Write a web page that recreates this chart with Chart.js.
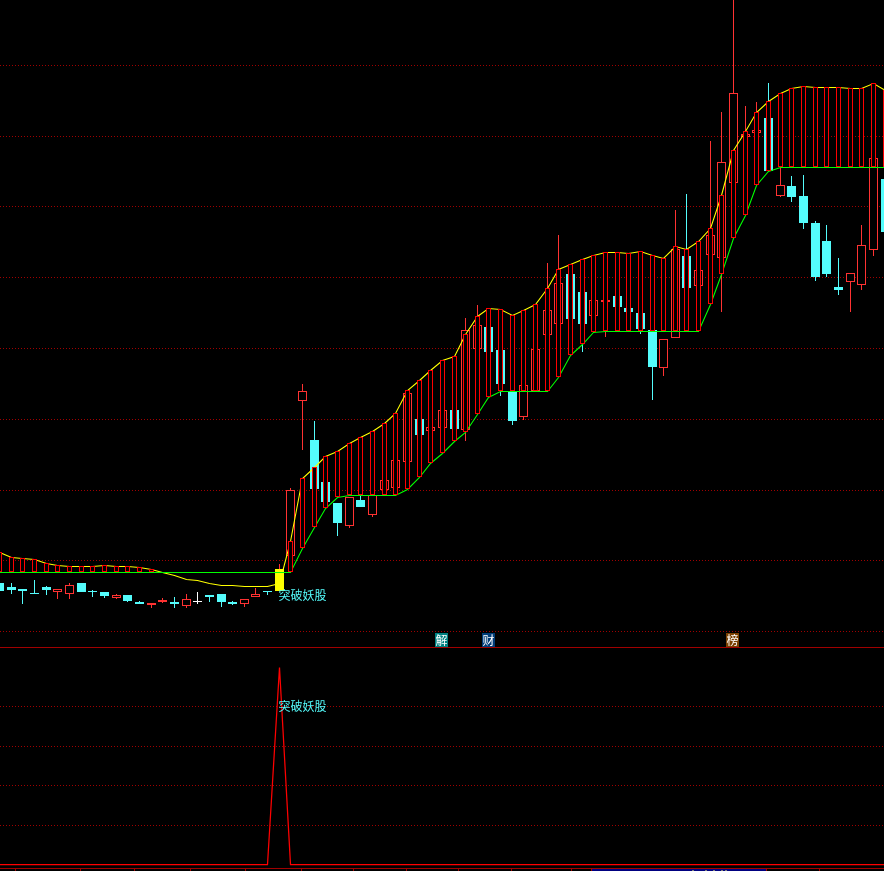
<!DOCTYPE html>
<html>
<head>
<meta charset="utf-8">
<title>突破妖股</title>
<style>
    html, body { margin: 0; height: 100%; background: #000; overflow: hidden; }
    #priceBox { position: absolute; left: 0; top: 0; width: 886px; height: 647px; }
    #signalBox { position: absolute; left: 0; top: 647px; width: 886px; height: 223px; border-top: 1px solid #a00000; }
    canvas { display: block; }
</style>
<script src="https://cdn.jsdelivr.net/npm/chart.js@4"></script>
</head>
<body>
<div id="priceBox"><canvas id="priceChart" width="886" height="647"></canvas></div>
<div id="signalBox"><canvas id="signalChart" width="886" height="223"></canvas></div>
<script>
const opens = [6.4,6.0,5.8,5.4,6.0,5.5,5.3,6.4,5.6,5.5,4.9,5.2,4.5,4.2,4.5,4.5,4.1,4.6,5.2,5.3,4.5,4.3,5.0,5.6,5.6,9.1,24.6,20.7,16.5,14.4,12.1,14.7,13.2,15.7,15.9,18.5,22.8,21.6,21.9,23.7,21.7,29.8,32.0,29.7,25.5,23.0,25.6,31.2,32.3,37.3,35.5,33.1,34.5,35.1,33.9,33.4,31.7,27.9,30.9,39.1,36.1,39.2,38.9,46.4,51.0,51.4,52.9,45.1,46.1,45.1,42.4,40.6,36.0,36.5,36.2,39.7,46.8];
const closes = [5.6,5.7,5.6,5.3,5.7,5.8,6.2,5.5,5.5,5.1,5.2,4.6,4.3,4.4,4.7,4.3,4.8,4.5,5.0,4.5,4.3,4.8,5.3,5.5,7.8,15.7,25.6,15.8,14.5,12.4,15.0,14.0,15.2,16.7,18.7,25.4,21.2,22.0,23.7,21.8,31.7,32.2,29.5,26.3,22.6,26.2,29.8,33.7,36.4,32.8,32.3,34.7,34.7,34.0,33.5,31.8,28.0,30.8,39.8,35.9,37.7,41.2,48.5,55.4,51.3,51.7,47.6,46.2,45.0,42.4,37.0,37.3,35.7,37.4,40.2,48.9,41.5];
const highs = [6.4,6.4,5.8,6.7,6.1,5.8,6.4,6.4,5.7,5.5,5.3,5.2,4.6,4.4,4.9,5.0,5.3,5.5,5.2,5.3,4.6,4.8,5.9,5.6,8.3,15.9,26.3,22.6,16.5,14.4,15.0,15.1,15.2,16.7,18.7,25.4,22.8,22.0,23.7,23.7,32.9,34.2,32.0,29.7,25.5,26.2,29.8,38.4,41.2,37.3,35.5,34.7,34.7,35.1,33.9,33.4,31.7,30.8,43.7,45.3,37.7,50.6,53.5,64.7,54.1,54.5,56.4,48.0,47.1,47.2,42.6,42.2,38.9,37.4,42.2,48.9,46.8];
const lows = [5.6,5.3,4.3,5.3,5.2,4.8,4.8,5.5,5.0,4.9,4.8,4.5,4.3,3.9,4.4,3.9,3.9,4.3,4.5,4.0,4.2,4.0,5.0,5.2,5.6,9.1,19.7,15.8,14.5,11.1,11.9,14.0,13.0,15.7,15.9,18.5,21.2,21.6,21.9,21.8,20.6,29.8,29.5,25.1,22.2,22.7,25.6,31.2,32.3,32.8,29.5,33.1,31.0,34.0,33.5,31.3,24.7,27.1,30.9,35.9,36.1,39.2,33.5,46.4,51.0,51.4,47.6,45.0,44.5,41.8,36.6,37.0,35.2,33.5,35.7,39.1,41.5];
const upperBand = [9.5,9.0,8.9,8.8,8.4,8.2,8.1,8.1,8.1,8.2,8.1,8.1,8.0,7.8,7.5,7.2,6.8,6.7,6.4,6.2,6.2,6.1,6.1,6.1,6.4,10.6,16.9,18.0,19.1,19.6,20.4,21.0,21.6,22.4,23.4,25.7,26.7,27.7,28.7,29.1,31.3,33.1,33.9,33.8,33.2,33.7,34.3,35.9,37.8,38.3,38.8,39.2,39.5,39.5,39.4,39.6,39.2,38.9,40.1,39.8,40.6,41.9,45.2,49.7,51.6,53.5,54.6,55.4,55.9,56.1,56.0,56.0,56.0,55.9,55.9,56.4,55.7];
const lowerBand = [7.5,7.5,7.5,7.5,7.5,7.5,7.5,7.5,7.5,7.5,7.5,7.5,7.5,7.5,7.5,7.5,7.5,7.5,7.5,7.5,7.5,7.5,7.5,7.5,7.5,7.5,9.9,12.0,13.9,15.0,15.2,15.2,15.2,15.2,15.2,15.8,17.0,18.4,19.4,20.6,21.5,23.3,25.0,25.6,25.6,25.6,25.6,25.6,27.0,29.2,30.3,31.5,31.6,31.6,31.6,31.6,31.6,31.6,31.6,31.6,31.6,34.3,37.3,40.9,43.2,46.2,47.6,48.0,48.0,48.0,48.0,48.0,48.0,48.0,48.0,48.0,48.0];
const signal = [0,0,0,0,0,0,0,0,0,0,0,0,0,0,0,0,0,0,0,0,0,0,0,0,1,0,0,0,0,0,0,0,0,0,0,0,0,0,0,0,0,0,0,0,0,0,0,0,0,0,0,0,0,0,0,0,0,0,0,0,0,0,0,0,0,0,0,0,0,0,0,0,0,0,0,0,0];
const categories = opens.map((v, i) => i);

const priceTicks = [58.18, 51.08, 44.08, 36.98, 29.88, 22.78, 15.68, 8.68, 1.58];
const signalTicks = [0.8, 0.6, 0.4, 0.2];
const signalText = "突破妖股";
const signalBar = 24;
const whiteBar = 17;
const tags = ["解", "财", "榜"];
const tagBars = [37.95, 42, 62.9];
const tagColors = ["#008080", "#003c78", "#7a3f00"];
const dateTicks = [1.4, 6.9, 11.6, 16.4, 21.1, 25.9, 30.4, 34.9, 39.4, 43.9, 49.1, 50.8, 65.8, 70.4];
const stripMarks = [59.5, 60.6, 61.3, 62.0, 62.3];

const RED = "#ff3232";
const BAND = "#ff0000";
const CYAN = "#54fcfc";
const GRID = "#a00000";
const FONT = '12px "Noto Sans CJK SC"';

// keeps every candle on a whole pixel so the 1px outlines stay sharp
class SnappedCategory extends Chart.CategoryScale {
    getPixelForValue(value, index) {
        return Math.floor(super.getPixelForValue(value, index) - 0.35) + 0.5;
    }
}
SnappedCategory.id = "snapped";
SnappedCategory.defaults = Chart.CategoryScale.defaults;
Chart.register(SnappedCategory);

const isUp = (i) => closes[i] > opens[i];

const bodyFill = (i) => {
    if (i === signalBar) return "#ffff00";
    if (i === whiteBar) return "#ffffff";
    return isUp(i) ? "#000000" : CYAN;
};

const bodyBorder = (i) => {
    if (i === signalBar) return "#ffff00";
    if (i === whiteBar) return "#ffffff";
    return isUp(i) ? RED : CYAN;
};

const wickColor = (i) => {
    if (i === whiteBar) return "#ffffff";
    return isUp(i) ? RED : CYAN;
};

const xAxis = { type: "snapped", display: false, offset: false, grid: { offset: false } };

const yAxis = (min, max, ticks) => ({
    min: min,
    max: max,
    afterBuildTicks: (scale) => {
        scale.ticks = ticks.map((value) => ({ value: value }));
    },
    ticks: { display: false },
    border: { display: false, dash: [1, 2] },
    grid: { color: GRID, drawTicks: false, lineWidth: 1 },
});

const barStyle = { grouped: false, inflateAmount: 0, borderSkipped: false };

const labelPlugin = (value) => ({
    id: "signalLabel",
    afterDatasetsDraw(chart) {
        const ctx = chart.ctx;
        ctx.save();
        ctx.font = FONT;
        ctx.fillStyle = CYAN;
        ctx.textBaseline = "middle";
        ctx.textAlign = "left";
        ctx.fillText(signalText, chart.scales.x.getPixelForValue(signalBar) - 1, chart.scales.y.getPixelForValue(value));
        ctx.restore();
    },
});

const tagPlugin = {
    id: "tags",
    afterDatasetsDraw(chart) {
        const ctx = chart.ctx;
        ctx.save();
        ctx.font = FONT;
        ctx.textAlign = "center";
        ctx.textBaseline = "middle";
        tags.forEach((tag, n) => {
            const x = chart.scales.x.getPixelForValue(tagBars[n]);
            ctx.fillStyle = tagColors[n];
            ctx.fillRect(x - 6.5, chart.chartArea.bottom - 14, 13, 14);
            ctx.fillStyle = "#ffffff";
            ctx.fillText(tag, x, chart.chartArea.bottom - 7);
        });
        ctx.restore();
    },
};

const datePlugin = {
    id: "dateStrip",
    afterDatasetsDraw(chart) {
        const ctx = chart.ctx;
        const x = chart.scales.x;
        const bottom = chart.chartArea.bottom;
        ctx.save();
        ctx.fillStyle = "#000080";
        ctx.fillRect(x.getPixelForValue(dateTicks[11]), bottom - 2, x.getPixelForValue(dateTicks[12]) - x.getPixelForValue(dateTicks[11]), 2);
        ctx.fillStyle = "#808080";
        stripMarks.forEach((mark) => {
            ctx.fillRect(Math.floor(x.getPixelForValue(mark)), bottom - 1, 2, 1);
        });
        ctx.fillStyle = GRID;
        ctx.fillRect(0, bottom - 3, chart.width, 1);
        dateTicks.forEach((tick) => {
            ctx.fillRect(Math.floor(x.getPixelForValue(tick)), bottom - 2, 1, 2);
        });
        ctx.restore();
    },
};

const priceChart = () => {
    const ctx = document.getElementById("priceChart");

    const data = {
        labels: categories,
        datasets: [
            {
                type: "bar",
                label: "wick",
                data: highs.map((h, i) => [lows[i], h]),
                backgroundColor: categories.map(wickColor),
                barThickness: 1,
                borderWidth: 0,
                order: 6,
                ...barStyle,
            },
            {
                type: "bar",
                label: "body",
                data: opens.map((o, i) => [o, closes[i]]),
                backgroundColor: categories.map(bodyFill),
                borderColor: categories.map(bodyBorder),
                barThickness: 9,
                borderWidth: 1,
                order: 5,
                ...barStyle,
            },
            {
                type: "line",
                label: "upper",
                data: upperBand,
                yAxisID: "yLine",
                borderColor: "#ffff00",
                borderWidth: 1.1,
                pointRadius: 0,
                tension: 0,
                order: 4,
            },
            {
                type: "line",
                label: "lower",
                data: lowerBand,
                yAxisID: "yLine",
                borderColor: "#00ff00",
                borderWidth: 1.1,
                pointRadius: 0,
                tension: 0,
                order: 3,
            },
            {
                type: "bar",
                label: "band",
                data: upperBand.map((u, i) => (u > lowerBand[i] ? [lowerBand[i], u] : null)),
                backgroundColor: "#000000",
                borderColor: BAND,
                barThickness: 5,
                borderWidth: 1,
                order: 2,
                ...barStyle,
            },
        ],
    };

    const config = {
        data: data,
        options: {
            responsive: false,
            animation: false,
            devicePixelRatio: 1,
            layout: { padding: { right: 0.6 } },
            plugins: { legend: { display: false }, tooltip: { enabled: false } },
            scales: {
                x: xAxis,
                y: yAxis(0, 64.7, priceTicks),
                // half a pixel lower than y, so flat stretches of the lines land on one pixel row
                yLine: { axis: "y", display: false, min: 0.05, max: 64.75 },
            },
        },
        plugins: [labelPlugin(5.2), tagPlugin],
    };

    return new Chart(ctx, config);
};

const signalChart = () => {
    const ctx = document.getElementById("signalChart");

    const data = {
        labels: categories,
        datasets: [
            {
                type: "line",
                label: "signal",
                data: signal,
                borderColor: "#ff0000",
                borderWidth: 1.25,
                pointRadius: 0,
                tension: 0,
            },
        ],
    };

    const config = {
        data: data,
        options: {
            responsive: false,
            animation: false,
            devicePixelRatio: 1,
            layout: { padding: { right: 0.6 } },
            plugins: { legend: { display: false }, tooltip: { enabled: false } },
            scales: { x: xAxis, y: yAxis(-0.03299, 1.09898, signalTicks) },
        },
        plugins: [labelPlugin(0.8), datePlugin],
    };

    return new Chart(ctx, config);
};

priceChart();
signalChart();
</script>
</body>
</html>
